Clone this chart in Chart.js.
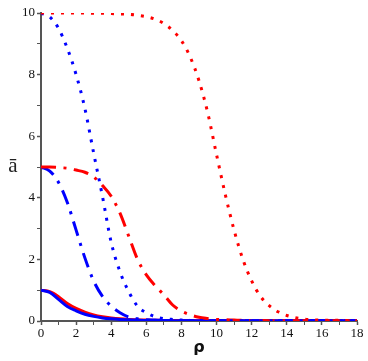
<!DOCTYPE html>
<html>
<head>
<meta charset="utf-8">
<script src="https://cdn.jsdelivr.net/npm/chart.js@4/dist/chart.umd.min.js"></script>
<style>
  html, body { margin: 0; padding: 0; background: #fff; }
  #wrap { width: 368px; height: 361px; position: relative; }
</style>
</head>
<body>
<div id="wrap"><canvas id="chart" width="368" height="361"></canvas></div>
<script>
// rho grid shared by all six curves
const rho = [0, 0.5, 1, 1.5, 2, 2.5, 3, 3.5, 4, 4.5, 5, 5.5, 6, 6.5, 7, 7.5, 8, 8.5, 9, 9.5,
             10, 10.5, 11, 11.5, 12, 12.5, 13, 13.5, 14, 15, 16, 17, 18];

// peak 1 curves
const blueSolid = [1, 0.93, 0.7, 0.47, 0.33, 0.22, 0.15, 0.1, 0.07, 0.05, 0.04, 0.03, 0.02, 0.02, 0.015, 0.01,
                   0.01, 0.01, 0.01, 0.01, 0.005, 0.005, 0.005, 0.005, 0.005, 0.005, 0.005, 0.005, 0.005, 0.005, 0.005, 0.005, 0.005];
const redSolid = [1, 0.95, 0.79, 0.57, 0.41, 0.29, 0.2, 0.14, 0.1, 0.07, 0.05, 0.04, 0.03, 0.025, 0.02, 0.018,
                  0.015, 0.013, 0.012, 0.011, 0.01, 0.01, 0.01, 0.01, 0.01, 0.01, 0.01, 0.01, 0.01, 0.01, 0.01, 0.01, 0.01];

// peak 5 curves
const blueDashDot = [5, 4.87, 4.5, 3.85, 2.95, 2.05, 1.3, 0.8, 0.48, 0.27, 0.13, 0.07, 0.04, 0.03, 0.02, 0.015,
                     0.01, 0.01, 0.01, 0.01, 0.01, 0.01, 0.01, 0.01, 0.01, 0.01, 0.01, 0.01, 0.01, 0.01, 0.01, 0.01, 0.01];
const redDashDot = [5, 5, 4.98, 4.96, 4.9, 4.83, 4.68, 4.4, 4.05, 3.5, 2.75, 2.0, 1.5, 1.15, 0.85, 0.52,
                    0.32, 0.2, 0.12, 0.08, 0.05, 0.04, 0.03, 0.02, 0.02, 0.015, 0.01, 0.01, 0.01, 0.01, 0.01, 0.01, 0.01];

// peak 10 curves
const blueDotted = [10, 9.87, 9.5, 8.85, 8.0, 6.9, 5.45, 4.05, 2.55, 1.6, 0.95, 0.48, 0.27, 0.14, 0.08, 0.05,
                    0.03, 0.02, 0.015, 0.01, 0.01, 0.01, 0.01, 0.01, 0.01, 0.01, 0.01, 0.01, 0.01, 0.01, 0.01, 0.01, 0.01];
const redDotted = [10, 10, 10, 10, 10, 10, 9.99, 9.99, 9.98, 9.97, 9.96, 9.93, 9.88, 9.8, 9.66, 9.43,
                   9.1, 8.57, 7.8, 6.75, 5.4, 4.1, 2.95, 2.0, 1.3, 0.8, 0.5, 0.3, 0.18, 0.06, 0.03, 0.02, 0.01];

const xTicks = [0, 2, 4, 6, 8, 10, 12, 14, 16, 18];
const yTicks = [0, 2, 4, 6, 8, 10];

const BLUE = '#0000ff';
const RED = '#ff0000';
const DOTS = [3, 7];
const DASHDOT = [15, 7.5, 3, 7.5];

function pts(ys) {
  return rho.map((x, i) => ({ x: x, y: ys[i] }));
}

function line(ys, color, dash) {
  return {
    data: pts(ys),
    borderColor: color,
    borderWidth: 3,
    borderDash: dash,
    pointRadius: 0,
    fill: false,
    cubicInterpolationMode: 'monotone',
  };
}

// y axis label drawn upright, like the original
const yLabel = {
  id: 'yLabel',
  afterDraw(chart) {
    const ctx = chart.ctx;
    ctx.save();
    ctx.fillStyle = '#222';
    ctx.font = '21px "Liberation Serif"';
    ctx.textAlign = 'center';
    ctx.textBaseline = 'alphabetic';
    ctx.fillText('\u0101', 13, 172);
    ctx.restore();
  }
};

const tickFont = { family: '"Liberation Serif"', size: 13 };
// minor ticks (odd values) thinner than major ones
const tickW = (c) => (c.tick && c.tick.label === '') ? 1 : 1.5;

new Chart(document.getElementById('chart'), {
  type: 'line',
  data: {
    datasets: [
      line(redDotted, RED, DOTS),
      line(blueDotted, BLUE, DOTS),
      line(redDashDot, RED, DASHDOT),
      line(blueDashDot, BLUE, DASHDOT),
      line(blueSolid, BLUE, []),
      line(redSolid, RED, []),
    ]
  },
  options: {
    responsive: false,
    animation: false,
    layout: { padding: { left: 0, top: 13, right: 11, bottom: 4 } },
    plugins: { legend: { display: false }, tooltip: { enabled: false } },
    scales: {
      x: {
        type: 'linear',
        min: 0, max: 18,
        border: { color: '#555', width: 2 },
        grid: { drawOnChartArea: false, tickLength: 4, tickColor: '#555', tickWidth: tickW },
        ticks: {
          stepSize: 1, autoSkip: false, maxRotation: 0, padding: 1,
          color: '#111', font: tickFont,
          callback: (v) => xTicks.includes(v) ? String(v) : ''
        },
        title: {
          display: true, text: 'ρ', color: '#111',
          font: { family: '"DejaVu Sans"', size: 16, weight: 'bold' },
          padding: { top: 0, bottom: 0 }
        },
        afterFit(s) { s.height = 36; }
      },
      y: {
        type: 'linear',
        min: 0, max: 10,
        border: { color: '#555', width: 2 },
        grid: { drawOnChartArea: false, tickLength: 4, tickColor: '#555', tickWidth: tickW },
        ticks: {
          stepSize: 1, autoSkip: false, padding: 2,
          color: '#111', font: tickFont,
          callback: (v) => yTicks.includes(v) ? String(v) : ''
        },
        afterFit(s) { s.width = 41; }
      }
    }
  },
  plugins: [yLabel]
});
</script>
</body>
</html>
